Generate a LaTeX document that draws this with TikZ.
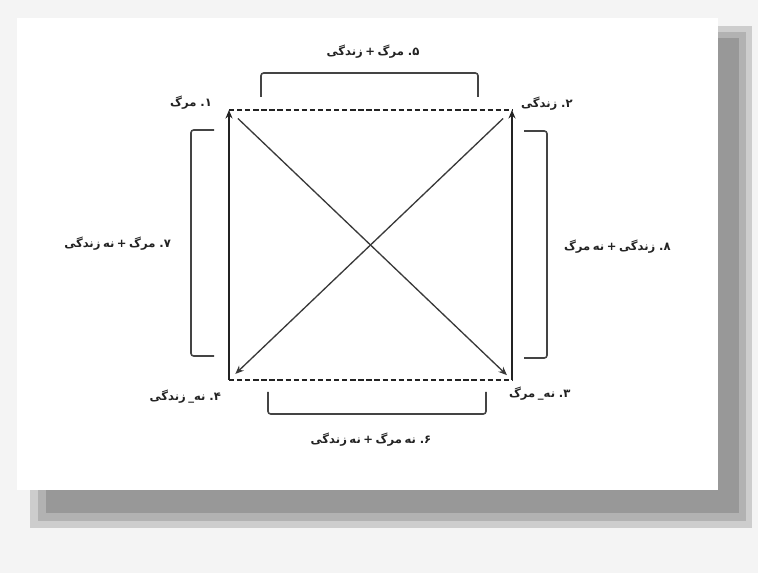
\documentclass[tikz,border=0pt]{standalone}
\usepackage{fontspec}
\newfontfamily\arabicfont[Script=Arabic]{DejaVu Sans}
\TeXXeTstate=1
\usetikzlibrary{arrows.meta,positioning}
\definecolor{pagegrey}{RGB}{244,244,244}
\definecolor{shadowlight}{RGB}{205,205,205}
\definecolor{shadowmid}{RGB}{178,178,178}
\definecolor{shadowdark}{RGB}{152,152,152}
\definecolor{inkgrey}{RGB}{35,35,35}
\newcommand{\fa}[1]{{\arabicfont\bfseries\spaceskip=0.22em\beginR #1\endR}}

\begin{document}
\begin{tikzpicture}[x=0.02cm, y=-0.02cm,
    lbl/.style={font=\fontsize{6.6}{8}\selectfont, inner sep=1pt, text=inkgrey},
    side/.style={line width=0.9pt, inkgrey},
    dashside/.style={side, dash pattern=on 3pt off 1.6pt},
    tip/.style={-{Stealth[length=1.7mm, width=1.4mm]}},
    diag/.style={line width=0.75pt, inkgrey!90, tip},
    brace/.style={line width=0.9pt, inkgrey!85, rounded corners=1.5pt}
]
    \useasboundingbox (0,0) rectangle (758,573);

    % Paper and its shadow
    \fill[pagegrey] (0,0) rectangle (758,573);
    \fill[shadowlight] (30,26) rectangle (752,528);
    \fill[shadowmid] (38,32) rectangle (746,521);
    \fill[shadowdark] (46,38) rectangle (739,513);
    \fill[white] (17,18) rectangle (718,490);

    % Corners of the square
    \coordinate (tl) at (229,110);
    \coordinate (tr) at (512,110);
    \coordinate (bl) at (229,380);
    \coordinate (br) at (512,380);

    % Sides
    \draw[dashside] (tl) -- (tr);
    \draw[dashside] (bl) -- (br);
    \draw[side, tip] (bl) -- (tl);
    \draw[side, tip] (br) -- (tr);

    % Diagonals
    \draw[diag, shorten <=7pt, shorten >=4pt] (tl) -- (br);
    \draw[diag, shorten <=7pt, shorten >=5pt] (tr) -- (bl);

    % Brackets
    \draw[brace] (261,97) -- (261,73) -- (478,73) -- (478,97);
    \draw[brace] (268,392) -- (268,414) -- (486,414) -- (486,392);
    \draw[brace] (214,130) -- (191,130) -- (191,356) -- (214,356);
    \draw[brace] (524,131) -- (547,131) -- (547,358) -- (524,358);

    % Terms
    \node[lbl, anchor=east] (death) at (214,103) {\fa{۱. مرگ}};
    \node[lbl, anchor=west] (life) at (519,104) {\fa{۲. زندگی}};
    \node[lbl, anchor=west] (notdeath) at (507,394) {\fa{۳. نه\_ مرگ}};
    \node[lbl, anchor=east] (notlife) at (223,397) {\fa{۴. نه\_ زندگی}};

    % Combinations
    \node[lbl] (both) at (373,52) {\fa{۵. مرگ + زندگی}};
    \node[lbl] (neither) at (371,440) {\fa{۶. نه مرگ + نه زندگی}};
    \node[lbl, anchor=east] (deathnotlife) at (173,244) {\fa{۷. مرگ + نه زندگی}};
    \node[lbl, anchor=west] (lifenotdeath) at (562,247) {\fa{۸. زندگی + نه مرگ}};
\end{tikzpicture}
\end{document}
